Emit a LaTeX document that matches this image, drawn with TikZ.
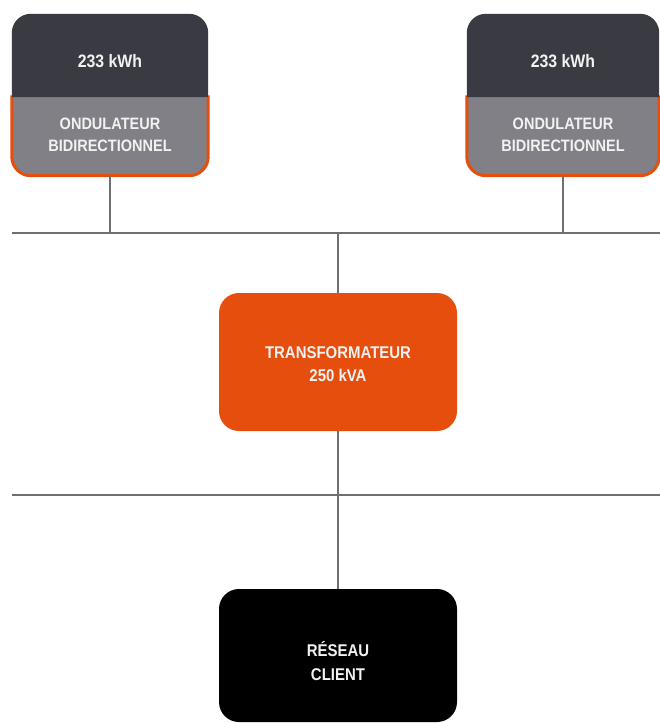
\documentclass[tikz,border=0pt]{standalone}
\usepackage{fontspec}
\setmainfont{Liberation Sans}[FakeStretch=0.88]
\definecolor{darkbox}{HTML}{3A3B42}
\definecolor{greybox}{HTML}{808086}
\definecolor{orng}{HTML}{E54E0C}
\definecolor{wirec}{HTML}{707070}
\definecolor{txtc}{HTML}{F2F2F2}
\begin{document}
\begin{tikzpicture}[x=1pt,y=-1pt,
  lbl/.style={font=\bfseries\fontsize{16.5}{22}\selectfont, text=txtc, align=center, inner sep=0pt},
  half/.style={minimum width=196pt, minimum height=80pt, inner sep=0pt},
  bigbox/.style={rounded corners=20pt, minimum width=238pt, inner sep=0pt},
  wire/.style={draw=wirec, line width=1.3pt}]
\useasboundingbox (0,0) rectangle (660,723);

% ---- battery / inverter boxes (left) ----
\node[half] (invA) at (110,135.5) {};
\node[half, minimum height=83pt] (batA) at (110,55.5) {};
\fill[greybox] (invA.north west) [rounded corners=19pt] -- (invA.south west) -- (invA.south east) [sharp corners] -- (invA.north east) -- cycle;
\draw[orng, line width=3pt, rounded corners=19pt] (invA.north west) -- (invA.south west) -- (invA.south east) -- (invA.north east);
\fill[darkbox] (batA.south west) [rounded corners=19pt] -- (batA.north west) -- (batA.north east) [sharp corners] -- (batA.south east) -- cycle;
\node[lbl, font=\bfseries\fontsize{18}{22}\selectfont] (tA) at (110,61) {233 kWh};
\node[lbl] (oA) at (110,135) {ONDULATEUR\\BIDIRECTIONNEL};

% ---- battery / inverter boxes (right) ----
\node[half, minimum width=192pt] (invB) at (563,135.5) {};
\node[half, minimum width=192pt, minimum height=83pt] (batB) at (563,55.5) {};
\fill[greybox] (invB.north west) [rounded corners=19pt] -- (invB.south west) -- (invB.south east) [sharp corners] -- (invB.north east) -- cycle;
\draw[orng, line width=3pt, rounded corners=19pt] (invB.north west) -- (invB.south west) -- (invB.south east) -- (invB.north east);
\fill[darkbox] (batB.south west) [rounded corners=19pt] -- (batB.north west) -- (batB.north east) [sharp corners] -- (batB.south east) -- cycle;
\node[lbl, font=\bfseries\fontsize{18}{22}\selectfont] (tB) at (563,61) {233 kWh};
\node[lbl] (oB) at (563,135) {ONDULATEUR\\BIDIRECTIONNEL};

% ---- transformer and client ----
\node[bigbox, fill=orng, minimum height=138pt] (tr) at (338,362) {};
\node[lbl, font=\bfseries\fontsize{17}{23}\selectfont] (trt) at (338,364) {TRANSFORMATEUR\\250 kVA};
\node[bigbox, fill=black, minimum height=133pt] (cl) at (338,655.5) {};
\node[lbl, font=\bfseries\fontsize{17}{24}\selectfont] (clt) at (338,661) {RÉSEAU\\CLIENT};

% ---- buses ----
\coordinate (b1w) at (12,233);
\coordinate (b1e) at (660,233);
\coordinate (b2w) at (12,495);
\coordinate (b2e) at (660,495);
\draw[wire] (b1w) -- (b1e);
\draw[wire] (b2w) -- (b2e);

% ---- connectors ----
\draw[wire] (invA.south) -- (invA.south |- b1w);
\draw[wire] (invB.south) -- (invB.south |- b1w);
\draw[wire] (tr.north |- b1w) -- (tr.north);
\draw[wire] (tr.south) -- (cl.north);
\end{tikzpicture}
\end{document}
